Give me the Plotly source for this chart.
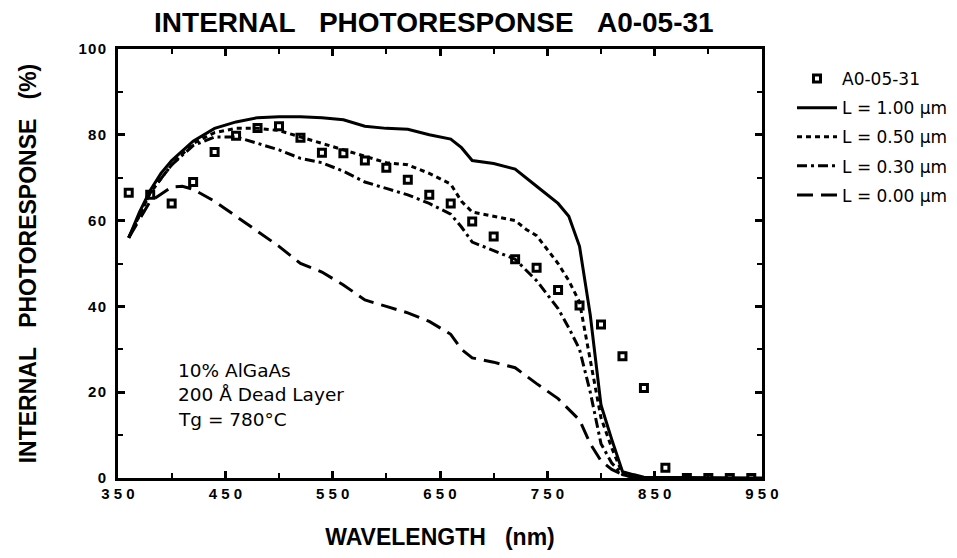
import plotly.graph_objects as go

# Measured data (squares)
meas_x = [360, 380, 400, 420, 440, 460, 480, 500, 520, 540, 560, 580, 600, 620, 640,
          660, 680, 700, 720, 740, 760, 780, 800, 820, 840, 860, 880, 900, 920, 940]
meas_y = [66.5, 66, 64, 69, 76, 79.8, 81.6, 82, 79.3, 75.8, 75.7, 74, 72.3, 69.5, 66,
          64, 59.8, 56.3, 51, 49, 43.8, 40.2, 35.8, 28.4, 21, 2.4, 0, 0, 0, 0]

# Model curves
l100_x = [360, 370, 380, 390, 400, 420, 440, 460, 480, 500, 520, 540, 560, 580, 600, 620,
          640, 660, 670, 680, 700, 720, 740, 760, 770, 780, 790, 800, 810, 820, 830, 840, 950]
l100_y = [56, 62, 67, 71, 74, 78.5, 81.5, 83, 84, 84.2, 84.2, 84, 83.5, 82, 81.5, 81.3,
          80, 79, 77, 74, 73.3, 72, 68, 64, 61, 54, 38, 17, 9, 1.5, 0.8, 0.2, 0]

l050_x = [360, 380, 400, 420, 440, 460, 480, 500, 520, 540, 560, 580, 600, 620, 640, 660,
          670, 680, 700, 720, 730, 740, 760, 770, 780, 790, 800, 810, 820, 830, 840]
l050_y = [56, 66.5, 73, 78, 80.5, 81.5, 81.5, 81, 79.5, 78, 76.5, 75, 73.5, 73, 71, 68.5,
          64.5, 62, 61, 60, 58, 56.5, 50, 46, 41, 27, 14, 7, 1, 0.3, 0]

l030_x = [360, 380, 400, 420, 440, 460, 480, 500, 520, 540, 560, 580, 600, 620, 640, 660,
          670, 680, 700, 720, 740, 760, 770, 780, 790, 800, 810, 820, 830, 840]
l030_y = [56, 66.5, 73, 77.5, 79.5, 79.5, 78, 76.5, 74.5, 73.5, 71.5, 69, 67.5, 66, 64, 61.5,
          58.5, 55, 53, 51, 46, 39.5, 35, 30, 20, 8, 3.5, 0.8, 0.2, 0]

l000_x = [360, 380, 400, 410, 420, 440, 460, 480, 500, 520, 540, 560, 580, 600, 620, 640,
          660, 670, 680, 700, 720, 740, 760, 780, 790, 800, 810, 820, 830, 840]
l000_y = [56, 64.5, 67.8, 68, 67.3, 64.5, 61, 57.5, 54, 50, 48, 45, 41.5, 40, 38.5, 36.5,
          33.5, 30, 28, 27, 25.7, 22, 18.5, 13.5, 8, 4, 2, 0.8, 0.2, 0]

x_tickvals = [350, 450, 550, 650, 750, 850, 950]
x_ticktext = ["3 5 0", "4 5 0", "5 5 0", "6 5 0", "7 5 0", "8 5 0", "9 5 0"]
y_tickvals = [0, 20, 40, 60, 80, 100]
y_ticktext = ["0", "2\u200a0", "4\u200a0", "6\u200a0", "8\u200a0", "1\u200a0\u200a0"]

notes = ["10% AlGaAs", "200 Å Dead Layer", "Tg = 780°C"]

SANS = "Liberation Sans, Arial, Helvetica, sans-serif"
WIDE = "DejaVu Sans, Verdana, sans-serif"
SP3 = "\u00a0\u00a0\u00a0"

fig = go.Figure()
fig.add_trace(go.Scatter(x=meas_x, y=meas_y, mode="markers", name="A0-05-31", legendgroup="m",
                         marker=dict(symbol="square", size=7, color="white",
                                     line=dict(color="black", width=3))))
fig.add_trace(go.Scatter(x=l100_x, y=l100_y, mode="lines", name="L = 1.00 µm", legendgroup="a",
                         line=dict(color="black", width=3, dash="solid")))
fig.add_trace(go.Scatter(x=l050_x, y=l050_y, mode="lines", name="L = 0.50 µm", legendgroup="b",
                         line=dict(color="black", width=3, dash="5px,4px")))
fig.add_trace(go.Scatter(x=l030_x, y=l030_y, mode="lines", name="L = 0.30 µm", legendgroup="c",
                         line=dict(color="black", width=3, dash="10px,4px,3px,4px")))
fig.add_trace(go.Scatter(x=l000_x, y=l000_y, mode="lines", name="L = 0.00 µm", legendgroup="d",
                         line=dict(color="black", width=3, dash="16px,8px")))

for i, t in enumerate(notes):
    fig.add_annotation(x=0.090, y=0.2517 - i * 0.058, xref="paper", yref="paper",
                       text=t, showarrow=False, xanchor="left", yanchor="middle",
                       font=dict(family=WIDE, size=18.5, color="black"))

fig.update_layout(
    width=957, height=558,
    margin=dict(l=110, r=203, t=41, b=88, autoexpand=False),
    paper_bgcolor="white", plot_bgcolor="white",
    title=dict(text="INTERNAL" + SP3 + "PHOTORESPONSE" + SP3 + "A0-05-31",
               x=0.445, xanchor="center", y=0.975, yanchor="middle",
               font=dict(family=SANS, size=28, color="black", weight="bold")),
    showlegend=True,
    legend=dict(x=1.0466, y=0.972, xanchor="left", yanchor="top",
                traceorder="grouped", tracegroupgap=4,
                font=dict(family=WIDE, size=17, color="black"),
                bgcolor="rgba(0,0,0,0)", itemwidth=40),
    xaxis=dict(range=[350, 950], showline=True, linewidth=3, linecolor="black",
               mirror="ticks", ticks="inside", ticklen=7, tickwidth=2.5, tickcolor="black",
               tickvals=x_tickvals, ticktext=x_ticktext, showgrid=False, zeroline=False,
               automargin=False,
               minor=dict(dtick=50, tick0=350, ticks="inside", ticklen=5, tickwidth=2,
                          tickcolor="black", showgrid=False),
               tickfont=dict(family=SANS, size=15, color="black", weight="bold"),
               title=dict(text="WAVELENGTH" + SP3 + "(nm)", standoff=28,
                          font=dict(family=SANS, size=23, color="black", weight="bold"))),
    yaxis=dict(range=[0, 100], showline=True, linewidth=3, linecolor="black",
               mirror="ticks", ticks="inside", ticklen=7, tickwidth=2.5, tickcolor="black",
               tickvals=y_tickvals, ticktext=y_ticktext, showgrid=False, zeroline=False,
               automargin=False, ticklabelstandoff=6,
               minor=dict(dtick=10, tick0=0, ticks="inside", ticklen=5, tickwidth=2,
                          tickcolor="black", showgrid=False),
               tickfont=dict(family=SANS, size=15, color="black", weight="bold"),
               title=dict(text="INTERNAL" + SP3 + "PHOTORESPONSE" + SP3 + "(%)", standoff=36,
                          font=dict(family=SANS, size=23, color="black", weight="bold"))),
)

fig.write_html("out.html")
